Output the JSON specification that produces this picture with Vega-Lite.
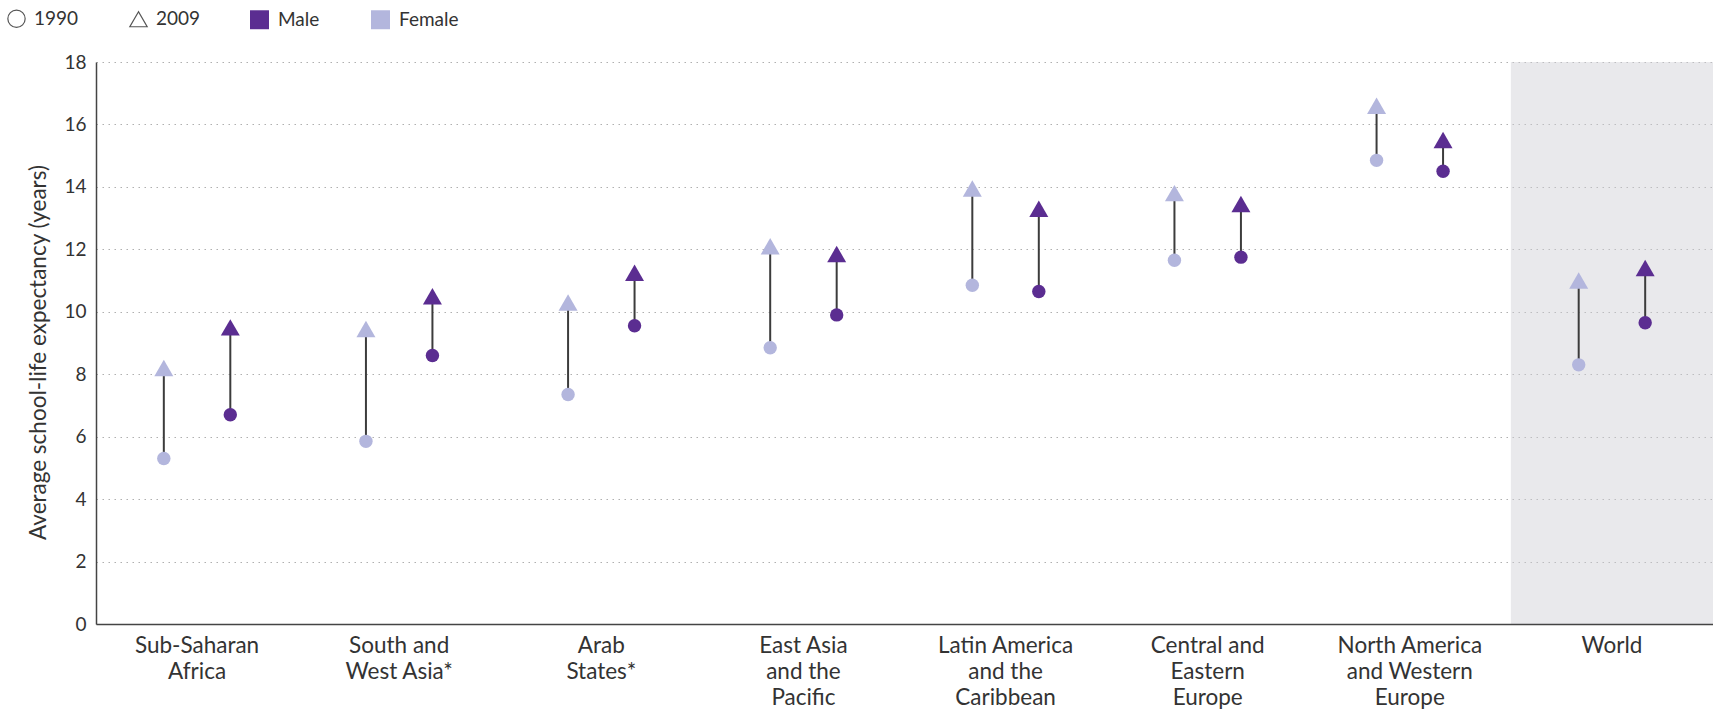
{
  "$schema": "https://vega.github.io/schema/vega-lite/v6.json",
  "width": 1617,
  "height": 562,
  "autosize": {"type": "none"},
  "padding": {"left": 96, "top": 62, "right": 0, "bottom": 90},
  "background": "#ffffff",
  "config": {
    "font": "Lato",
    "view": {"stroke": null},
    "axis": {"labelFont": "Lato", "titleFont": "Lato", "labelColor": "#333", "titleColor": "#333"},
    "legend": {"labelFont": "Lato", "labelColor": "#333", "padding": 0}
  },
  "datasets": {
    "schooling": [
      {"region": "Sub-Saharan Africa", "sex": "Female", "1990": 5.3, "2009": 8.2},
      {"region": "Sub-Saharan Africa", "sex": "Male", "1990": 6.7, "2009": 9.5},
      {"region": "South and West Asia*", "sex": "Female", "1990": 5.85, "2009": 9.45},
      {"region": "South and West Asia*", "sex": "Male", "1990": 8.6, "2009": 10.5},
      {"region": "Arab States*", "sex": "Female", "1990": 7.35, "2009": 10.3},
      {"region": "Arab States*", "sex": "Male", "1990": 9.55, "2009": 11.25},
      {"region": "East Asia and the Pacific", "sex": "Female", "1990": 8.85, "2009": 12.1},
      {"region": "East Asia and the Pacific", "sex": "Male", "1990": 9.9, "2009": 11.85},
      {"region": "Latin America and the Caribbean", "sex": "Female", "1990": 10.85, "2009": 13.95},
      {"region": "Latin America and the Caribbean", "sex": "Male", "1990": 10.65, "2009": 13.3},
      {"region": "Central and Eastern Europe", "sex": "Female", "1990": 11.65, "2009": 13.8},
      {"region": "Central and Eastern Europe", "sex": "Male", "1990": 11.75, "2009": 13.45},
      {"region": "North America and Western Europe", "sex": "Female", "1990": 14.85, "2009": 16.6},
      {"region": "North America and Western Europe", "sex": "Male", "1990": 14.5, "2009": 15.5},
      {"region": "World", "sex": "Female", "1990": 8.3, "2009": 11.0},
      {"region": "World", "sex": "Male", "1990": 9.65, "2009": 11.4}
    ],
    "highlight": [{"region": "World"}]
  },
  "encoding": {
    "x": {
      "field": "region", "type": "nominal",
      "sort": ["Sub-Saharan Africa", "South and West Asia*", "Arab States*", "East Asia and the Pacific", "Latin America and the Caribbean", "Central and Eastern Europe", "North America and Western Europe", "World"],
      "scale": {"paddingInner": 0, "paddingOuter": 0},
      "axis": {
        "title": null, "labelAngle": 0, "ticks": false, "grid": false,
        "domainColor": "#444444", "domainWidth": 1.5,
        "labelFontSize": 22.5, "labelLineHeight": 26, "labelPadding": 10, "labelBaseline": "top", "labelLimit": 300,
        "labelExpr": "{'Sub-Saharan Africa': ['Sub-Saharan', 'Africa'], 'South and West Asia*': ['South and', 'West Asia*'], 'Arab States*': ['Arab', 'States*'], 'East Asia and the Pacific': ['East Asia', 'and the', 'Pacific'], 'Latin America and the Caribbean': ['Latin America', 'and the', 'Caribbean'], 'Central and Eastern Europe': ['Central and', 'Eastern', 'Europe'], 'North America and Western Europe': ['North America', 'and Western', 'Europe'], 'World': ['World']}[datum.value]"
      }
    }
  },
  "layer": [
    {
      "data": {"name": "highlight"},
      "mark": {"type": "rect", "fill": "#cfcfd4", "opacity": 0.45}
    },
    {
      "data": {"name": "schooling"},
      "mark": {"type": "rule", "color": "#3c3c3c", "strokeWidth": 2},
      "encoding": {
        "xOffset": {"field": "sex", "type": "nominal", "sort": ["Female", "Male"], "scale": {"paddingOuter": 0.52, "paddingInner": 0}},
        "y": {
          "field": "1990", "type": "quantitative",
          "scale": {"domain": [0, 18], "nice": false},
          "axis": {
            "title": "Average school-life expectancy (years)", "titleFontSize": 22.5, "titleFontWeight": "normal", "titlePadding": 13, "titleY": 290,
            "values": [0, 2, 4, 6, 8, 10, 12, 14, 16, 18], "ticks": false, "labelFontSize": 19, "labelPadding": 10,
            "domainColor": "#444444", "domainWidth": 1.5,
            "grid": true, "gridColor": "#b0b0b0", "gridDash": [1.5, 4.5], "gridWidth": 1.2
          }
        },
        "y2": {"field": "2009"}
      }
    },
    {
      "data": {"name": "schooling"},
      "transform": [{"fold": ["1990", "2009"], "as": ["year", "value"]}],
      "mark": {"type": "point", "filled": true, "opacity": 1, "strokeWidth": 0},
      "encoding": {
        "xOffset": {"field": "sex", "type": "nominal", "sort": ["Female", "Male"], "scale": {"paddingOuter": 0.52, "paddingInner": 0}},
        "y": {
          "field": "value", "type": "quantitative",
          "scale": {"domain": [0, 18], "nice": false},
          "axis": {
            "title": "Average school-life expectancy (years)", "titleFontSize": 22.5, "titleFontWeight": "normal", "titlePadding": 13, "titleY": 290,
            "values": [0, 2, 4, 6, 8, 10, 12, 14, 16, 18], "ticks": false, "labelFontSize": 19, "labelPadding": 10,
            "domainColor": "#444444", "domainWidth": 1.5,
            "grid": true, "gridColor": "#b0b0b0", "gridDash": [1.5, 4.5], "gridWidth": 1.2
          }
        },
        "shape": {
          "field": "year", "type": "nominal",
          "scale": {"domain": ["1990", "2009"], "range": ["circle", "triangle-up"]},
          "legend": {
            "title": null, "orient": "none", "direction": "horizontal",
            "legendX": -89, "legendY": -53,
            "symbolSize": 300, "labelFontSize": 19, "labelOffset": 8, "columnPadding": 48,
            "symbolFillColor": "transparent", "symbolStrokeColor": "#555555", "symbolStrokeWidth": 1.2,
            "encode": {"symbols": {"update": {"fill": {"value": "transparent"}, "fillOpacity": {"value": 0}, "stroke": {"value": "#555555"}, "strokeWidth": {"value": 1.2}, "strokeOpacity": {"value": 1}}}}
          }
        },
        "size": {
          "field": "year", "type": "nominal",
          "scale": {"domain": ["1990", "2009"], "range": [180, 360]},
          "legend": null
        },
        "color": {
          "field": "sex", "type": "nominal",
          "scale": {"domain": ["Male", "Female"], "range": ["#5b2d91", "#b3b6dd"]},
          "legend": {
            "title": null, "orient": "none", "direction": "horizontal",
            "legendX": 153, "legendY": -53,
            "symbolType": "square", "symbolSize": 360, "labelFontSize": 19, "labelOffset": 8, "columnPadding": 50,
            "encode": {"symbols": {"update": {"strokeWidth": {"value": 0}, "opacity": {"value": 1}}}}
          }
        }
      }
    }
  ],
  "resolve": {"legend": {"shape": "independent", "color": "independent"}}
}
